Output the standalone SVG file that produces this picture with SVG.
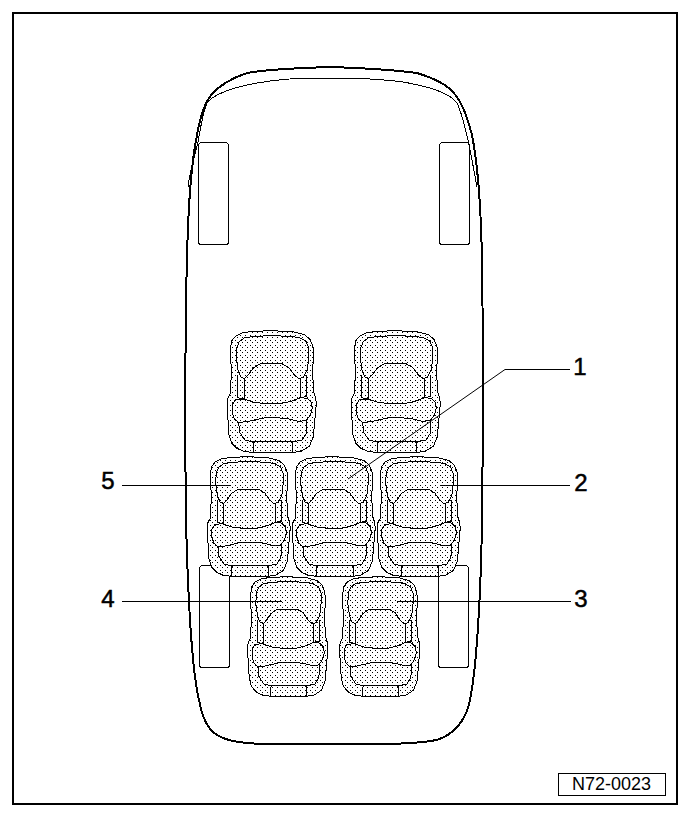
<svg xmlns="http://www.w3.org/2000/svg" xmlns:xlink="http://www.w3.org/1999/xlink" width="688" height="817" viewBox="0 0 688 817">
<style>
.l{fill:none;stroke:#000;stroke-width:1;shape-rendering:crispEdges}
.s{stroke:#000;stroke-width:1;vector-effect:non-scaling-stroke;stroke-linejoin:round;shape-rendering:crispEdges}
.i{fill:none}
.t{font-family:"Liberation Sans",Arial,sans-serif;font-size:24px;fill:#000;stroke:#000;stroke-width:.5;text-anchor:middle}
</style>
<defs>
<pattern id="dots" width="5" height="5" patternUnits="userSpaceOnUse"><rect width="1" height="1" shape-rendering="crispEdges"/><rect x="2" y="2" width="1" height="1" shape-rendering="crispEdges"/></pattern>
<path id="outer" class="s" d="M185 17L130 19L98 23L76 33L64 48L60 75L61 110L65 138L62 165L60 205L52 220L50 240L56 330L64 354L80 370L100 379L130 383L245 383L272 379L297 364L309 335L318 235L315 215L310 200L308 165L306 135L310 100L308 65L299 43L282 29L250 21Z"/>
<g id="seat">
<use href="#outer" xlink:href="#outer" fill="#fff"/>
<path class="s i" d="M185 32L130 34L102 39L87 50L79 68L78 100L83 135L91 155L102 161L112 152L128 130L150 116L215 116L236 128L252 150L265 160L278 158L291 135L295 100L295 68L287 49L268 38L240 34Z"/>
<path class="s i" d="M102 161V222M270 160V218M82 150V218L100 222M290 150V214L270 218"/>
<path class="s i" d="M100 222L130 232L165 236L210 236L245 228L270 218L290 220L303 232L306 250L300 270L288 287L265 289L235 282L200 278L160 279L110 290L85 292L72 282L65 262L65 240L75 224Z"/>
<path class="s i" d="M85 292L88 322L104 345L128 351H248L275 345L288 325L290 288"/>
<path class="s i" d="M128 383V357Q128 351 134 351H242Q248 351 248 357V383"/>
</g>
<clipPath id="seatArea">
<use href="#outer" xlink:href="#outer" transform="translate(272 331) scale(.3333 .3333) translate(-185 -18)"/>
<use href="#outer" xlink:href="#outer" transform="translate(396 331) scale(.3333 .3333) translate(-185 -18)"/>
<use href="#outer" xlink:href="#outer" transform="translate(249 457) scale(.31 .327) translate(-185 -18)"/>
<use href="#outer" xlink:href="#outer" transform="translate(334 457) scale(.31 .327) translate(-185 -18)"/>
<use href="#outer" xlink:href="#outer" transform="translate(419 457) scale(.31 .327) translate(-185 -18)"/>
<use href="#outer" xlink:href="#outer" transform="translate(288 577) scale(.3 .327) translate(-185 -18)"/>
<use href="#outer" xlink:href="#outer" transform="translate(380 577) scale(.3 .327) translate(-185 -18)"/>
</clipPath>
</defs>
<rect x="13" y="13" width="664" height="791" fill="none" stroke="#000" stroke-width="2" shape-rendering="crispEdges"/>
<g id="car">
<path d="M187 260C188 210 191 165 197 135C200 118 204 103 212 94C221 84 235 77 247 73C262 70 300 68 330 67C360 68 395 70 417 73C430 77 445 83 453 92C463 103 468 120 472 135C478 165 481 210 482 260C483 320 483 450 482 520C481 590 477 665 470 700C466 722 452 735 437 740C420 743 400 744 380 744H270C250 744 235 743 223 738C210 733 203 722 199 700C192 670 188 600 186 520C185 450 185 320 187 260Z" fill="none" stroke="#000" stroke-width="2" shape-rendering="crispEdges"/>
<path class="l" d="M188 187C190 170 195 155 198 142C201 125 203 112 207 103C210 99 213 97 217 95C225 91 240 86 257 83C275 80 295 78 313 78H353C370 79 390 80 403 82C420 85 433 88 443 93C450 96 454 99 457 103C462 113 465 128 468 140C471 155 474 170 477 187"/>
</g>
<g id="wheels">
<rect class="l" x="198.500" y="142.500" width="30" height="102" rx="3"/>
<rect class="l" x="439.500" y="142.500" width="30" height="102" rx="3"/>
<rect class="l" x="199.500" y="565.500" width="30" height="102" rx="3"/>
<rect class="l" x="438.500" y="565.500" width="30" height="102" rx="3"/>
</g>
<g id="seat-row-1-left"><use xlink:href="#seat" href="#seat" transform="translate(272 331) scale(.3333 .3333) translate(-185 -18)"/></g>
<g id="seat-row-1-right"><use xlink:href="#seat" href="#seat" transform="translate(396 331) scale(.3333 .3333) translate(-185 -18)"/></g>
<g id="seat-row-2-left"><use xlink:href="#seat" href="#seat" transform="translate(249 457) scale(.31 .327) translate(-185 -18)"/></g>
<g id="seat-row-2-center"><use xlink:href="#seat" href="#seat" transform="translate(334 457) scale(.31 .327) translate(-185 -18)"/></g>
<g id="seat-row-2-right"><use xlink:href="#seat" href="#seat" transform="translate(419 457) scale(.31 .327) translate(-185 -18)"/></g>
<g id="seat-row-3-left"><use xlink:href="#seat" href="#seat" transform="translate(288 577) scale(.3 .327) translate(-185 -18)"/></g>
<g id="seat-row-3-right"><use xlink:href="#seat" href="#seat" transform="translate(380 577) scale(.3 .327) translate(-185 -18)"/></g>
<rect id="stipple" x="200" y="325" width="270" height="375" fill="url(#dots)" clip-path="url(#seatArea)"/>
<g id="connectors">
<path d="M570 369.500H505L348 479" fill="none" stroke="#000" stroke-width="1"/>
<path class="l" d="M570 485.500H440M122 485.500H230M571 601.500H397M122 601.500H282"/>
</g>
<g id="labels">
<text class="t" x="580" y="375">1</text>
<text class="t" x="581" y="491">2</text>
<text class="t" x="581" y="607">3</text>
<text class="t" x="108" y="607">4</text>
<text class="t" x="108" y="489">5</text>
</g>
<g id="code">
<rect class="l" x="558.500" y="773.500" width="107" height="22"/>
<text x="572" y="790" textLength="79" lengthAdjust="spacingAndGlyphs" font-family="Liberation Sans,Arial,sans-serif" font-size="18" fill="#000">N72-0023</text>
</g>
</svg>
